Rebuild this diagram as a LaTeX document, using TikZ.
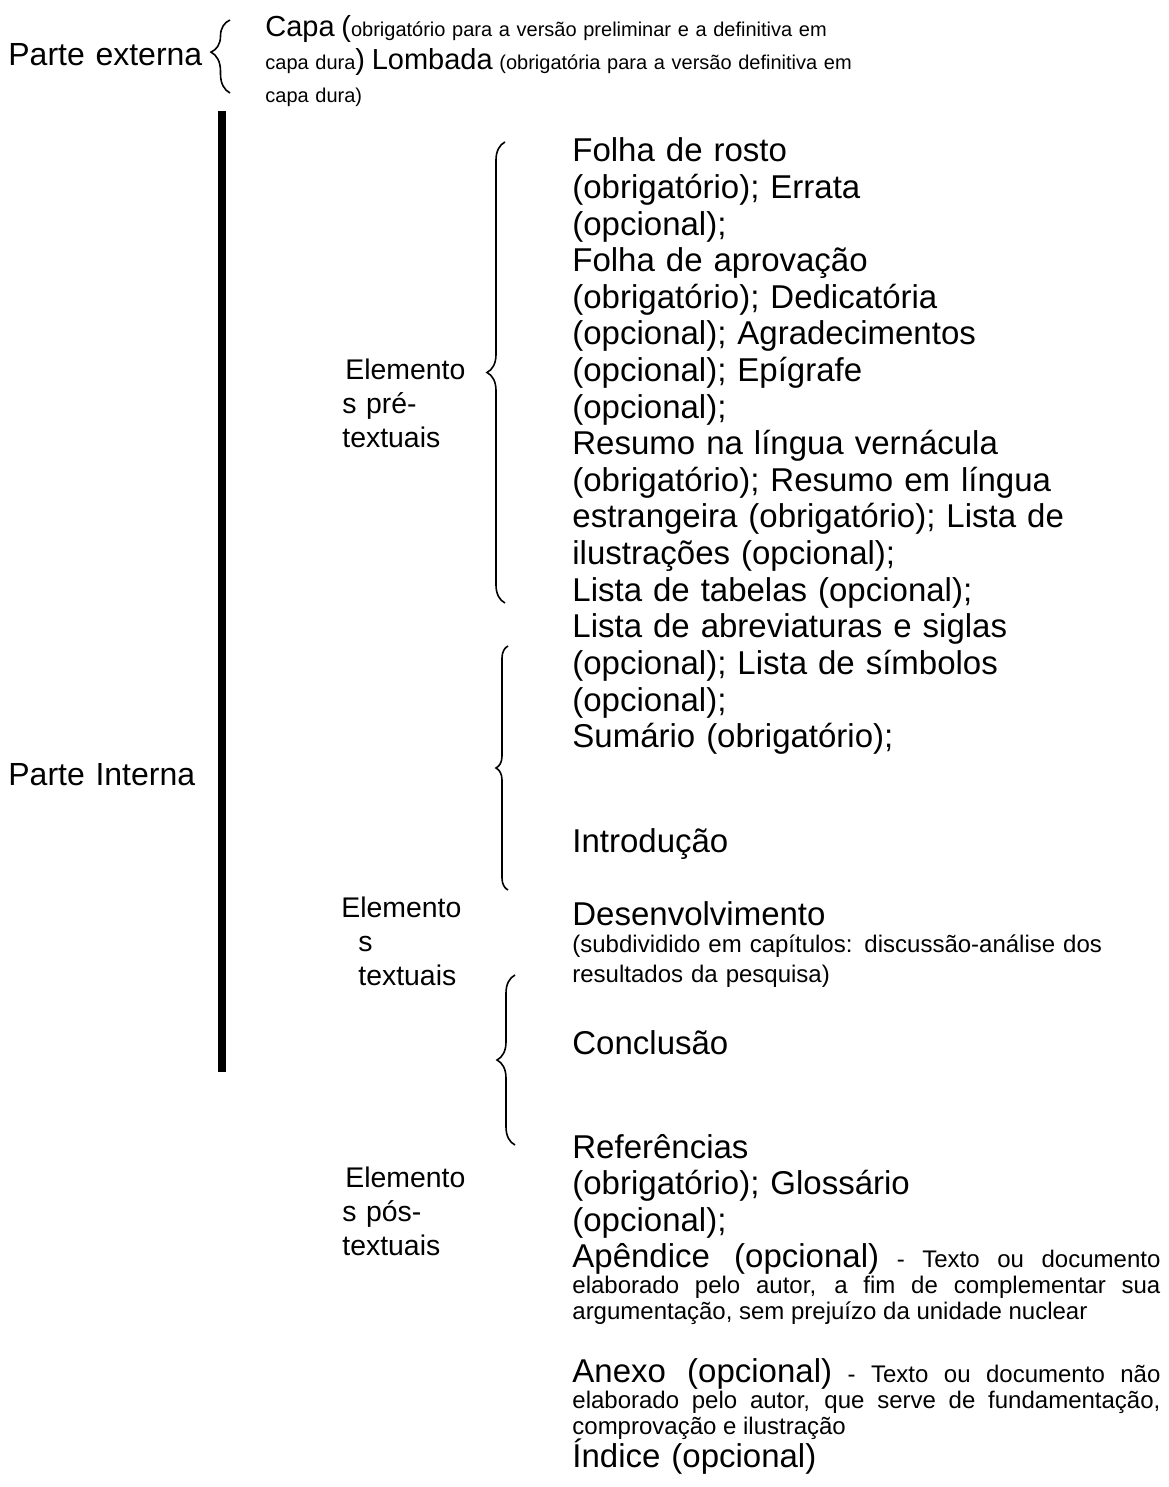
\documentclass[tikz,border=0pt]{standalone}
\usepackage{fontspec}
\setmainfont{Liberation Sans}
\usetikzlibrary{decorations.pathreplacing}

\tikzset{
  lista/.style={anchor=base west, inner sep=0pt, text width=290pt, align=left, font=\fontsize{16.5}{18.3}\selectfont},
  rotulo/.style={anchor=base west, inner sep=0pt, text width=90pt, align=left, font=\fontsize{14.2}{17}\selectfont},
  parte/.style={rotulo, text width=130pt, font=\fontsize{16}{18}\selectfont},
  nota/.style={anchor=base west, inner sep=0pt, text width=294pt, align=left, font=\fontsize{12}{13}\selectfont},
  chave/.style={decorate, decoration={brace, amplitude=9pt}, line width=0.8pt}
}

\begin{document}
\begin{tikzpicture}[x=0.5pt, y=-0.5pt]
\useasboundingbox (0,0) rectangle (1168,1487);
\draw node(pext)[parte] at (8,66) {Parte externa};
\draw node(capa)[nota, text width=460pt, font=\fontsize{10}{16.5}\selectfont] at (265,37)
  {{\fontsize{14.5}{16.5}\selectfont Capa (}obrigatório para a versão preliminar e a definitiva em\\
   capa dura{\fontsize{14.5}{16.5}\selectfont) Lombada} (obrigatória para a versão definitiva em\\
   capa dura)};
\draw node(pint)[parte] at (8,785) {Parte Interna};
\draw node(pre)[rotulo] at (342,379) {\hspace*{1.5pt}Elemento\\s pré-\\textuais};
\draw node(txt)[rotulo] at (341,917) {Elemento\\\hspace*{8.5pt}s\\\hspace*{8.5pt}textuais};
\draw node(pos)[rotulo] at (342,1187) {\hspace*{1.5pt}Elemento\\s pós-\\textuais};
\draw node(lpre)[lista] at (572,162) {Folha de rosto\\(obrigatório); Errata\\(opcional);\\Folha de aprovação\\(obrigatório); Dedicatória\\(opcional); Agradecimentos\\(opcional); Epígrafe\\(opcional);\\Resumo na língua vernácula\\(obrigatório); Resumo em língua\\estrangeira (obrigatório); Lista de\\ilustrações (opcional);\\Lista de tabelas (opcional);\\Lista de abreviaturas e siglas\\(opcional); Lista de símbolos\\(opcional);\\Sumário (obrigatório);};
\draw node(intro)[lista] at (572,852) {Introdução};
\draw node(desenv)[lista] at (572,925) {Desenvolvimento};
\draw node(sub)[nota, font=\fontsize{12}{15}\selectfont] at (572,952) {(subdividido em capítulos: discussão-análise dos\\resultados da pesquisa)};
\draw node(concl)[lista] at (572,1054) {Conclusão};
\draw node(refs)[lista] at (572,1158) {Referências\\(obrigatório); Glossário\\(opcional);};
\draw node(apend)[nota, align=justify] at (572,1267) {{\fontsize{16.5}{13}\selectfont Apêndice (opcional)} - Texto ou documento\linebreak elaborado pelo autor, a fim de complementar sua\linebreak argumentação, sem prejuízo da unidade nuclear};
\draw node(anexo)[nota, align=justify] at (572,1382) {{\fontsize{16.5}{13}\selectfont Anexo (opcional)} - Texto ou documento não\linebreak elaborado pelo autor, que serve de fundamentação,\linebreak comprovação e ilustração};
\draw node(indice)[lista] at (572,1467) {Índice (opcional)};
\fill (218,111) rectangle (226,1072);
\draw[chave, decoration={amplitude=9.5pt, aspect=0.56}] (230,93) -- (230,20);
\draw[chave, decoration={aspect=0.5}] (505,603) -- (505,142);
\draw[chave, decoration={amplitude=6pt, aspect=0.5}] (508,890) -- (508,646);
\draw[chave, decoration={aspect=0.5}] (515,1145) -- (515,975);
\end{tikzpicture}
\end{document}
